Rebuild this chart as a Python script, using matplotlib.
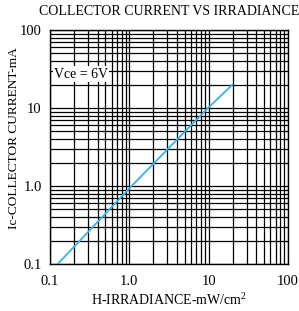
import matplotlib.pyplot as plt
from matplotlib.ticker import LogLocator, NullFormatter

# Collector current vs irradiance
irradiance = [0.125, 1.07, 9.8, 20]
current = [0.1, 1.0, 10, 20]

x_ticks = [0.1, 1, 10, 100]
x_labels = ['0.1', '1.0', '10', '100']
y_ticks = [0.1, 1, 10, 100]
y_labels = ['0.1', '1.0', '10', '100']

plt.rcParams['font.family'] = 'Liberation Serif'
plt.rcParams['mathtext.fontset'] = 'custom'
plt.rcParams['mathtext.rm'] = 'Liberation Serif'

fig = plt.figure(figsize=(2.99, 3.11), dpi=100)
ax = fig.add_axes([50 / 299, 1 - 264 / 311, 238 / 299, 234 / 311])

ax.plot(irradiance, current, color='#33b5ef', lw=1.3, zorder=3)

ax.set_xscale('log')
ax.set_yscale('log')
ax.set_xlim(0.1, 100)
ax.set_ylim(0.1, 100)

ax.set_xticks(x_ticks)
ax.set_xticklabels(x_labels)
ax.set_yticks(y_ticks)
ax.set_yticklabels(y_labels)
ax.xaxis.set_minor_locator(LogLocator(base=10, subs=range(2, 10)))
ax.yaxis.set_minor_locator(LogLocator(base=10, subs=range(2, 10)))
ax.xaxis.set_minor_formatter(NullFormatter())
ax.yaxis.set_minor_formatter(NullFormatter())
ax.grid(True, which='both', color='black', lw=0.9)
ax.tick_params(which='both', length=0, labelsize=10.5)
ax.tick_params(axis='x', pad=8)
ax.tick_params(axis='y', pad=6)

for s in ax.spines.values():
    s.set_linewidth(1.0)

ax.text(0.112, 27, 'Vce = 6V', fontsize=10, va='center', ha='left',
        bbox=dict(facecolor='white', edgecolor='none', pad=1.0), zorder=4)

ax.set_title('COLLECTOR CURRENT VS IRRADIANCE', fontsize=10, pad=11)
ax.set_xlabel('H-IRRADIANCE-mW/cm$\\mathrm{^2}$', fontsize=10, labelpad=3)
ax.set_ylabel('Ic-COLLECTOR CURRENT-mA', fontsize=9.6)
ax.yaxis.set_label_coords(-0.125, 0.54)

fig.savefig('out.png', dpi=100)
